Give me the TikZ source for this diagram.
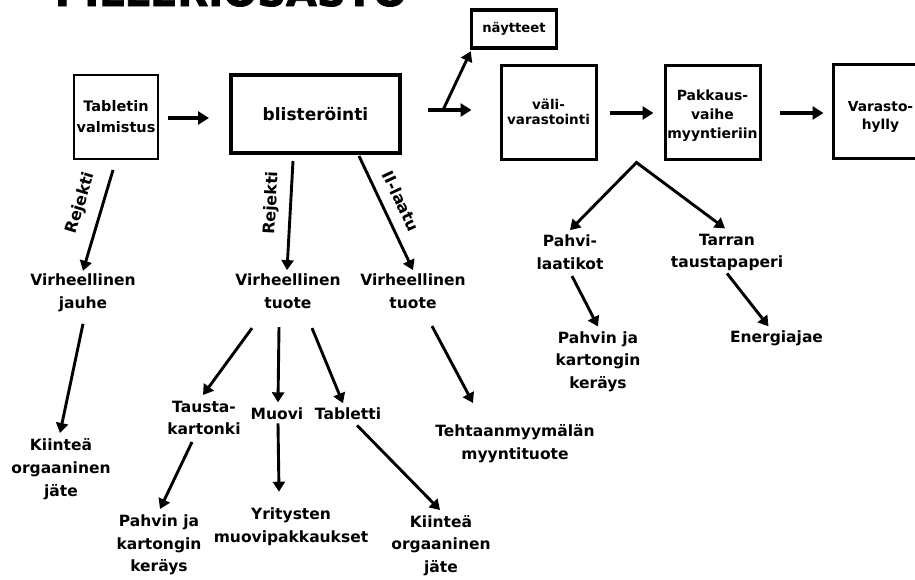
\documentclass[tikz,border=0pt]{standalone}
\usepackage{fontspec}
\setmainfont{DejaVu Sans}
\newfontfamily\titlefont{DejaVu Sans}[BoldFeatures={FakeBold=2}]
\usetikzlibrary{arrows.meta,calc}
\begin{document}
\begin{tikzpicture}[x=1pt,y=-1pt,
  lt/.style={font=\bfseries\fontsize{15.5}{22.7}\selectfont,align=center,inner sep=0pt},
  lab/.style={font=\bfseries\fontsize{16}{18}\selectfont,inner sep=0pt},
  bx/.style={draw,line width=3pt,align=center,inner sep=0pt,minimum width=95pt,minimum height=94pt},
  arr/.style={line width=2.9pt,-{Triangle[width=12pt,length=10pt]}},
  harr/.style={line width=3.8pt,-{Triangle[width=13pt,length=11pt]}},
  darr/.style={line width=2.9pt,{Triangle[width=12pt,length=10pt]}-{Triangle[width=12pt,length=10pt]}},
]
\fill[white] (0,0) rectangle (915,579);
\useasboundingbox (0,0) rectangle (915,579);
\clip (0,0) rectangle (915,579);

% title (cut by the top edge)
\node[font=\titlefont\bfseries\fontsize{40}{44}\selectfont,anchor=base,inner sep=0pt] (title) at (231,6) {PILLERIOSASTO};

% boxes
\node[bx,line width=2pt,minimum width=84pt,minimum height=84pt,font=\bfseries\fontsize{14.5}{21}\selectfont] (tab) at (116,117) {Tabletin\\valmistus};
\node[bx,line width=4pt,minimum width=169pt,minimum height=78pt,font=\bfseries\fontsize{17}{20}\selectfont] (bli) at (315.5,114) {blisteröinti};
\node[bx,line width=3.5pt,minimum width=85pt,minimum height=38pt,font=\bfseries\fontsize{13.2}{16}\selectfont] (nay) at (514,29) {näytteet};
\node[bx,font=\bfseries\fontsize{13.5}{15.5}\selectfont] (vali) at (548.5,112) {väli-\\varastointi};
\node[bx,font=\bfseries\fontsize{14}{19}\selectfont] (pak) at (712.5,112) {\rule{0pt}{17.6pt}Pakkaus-\\vaihe\\myyntieriin};
\node[bx,font=\bfseries\fontsize{13.8}{18}\selectfont] (var) at (880.5,111.5) {\rule{0pt}{21.5pt}Varasto-\\hylly};

% text nodes
\node[lt] (vj) at (83,292.8) {Virheellinen\\jauhe};
\node[lt] (kl) at (61,469) {Kiinteä\\orgaaninen\\jäte};
\node[lt] (vt1) at (288,291.1) {Virheellinen\\tuote};
\node[lt] (vt2) at (413,291.1) {Virheellinen\\tuote};
\node[lt] (tk) at (204,418) {Tausta-\\kartonki};
\node[lt,anchor=base] (mu) at (277,419.3) {Muovi};
\node[lt,anchor=base] (tb) at (348,419.3) {Tabletti};
\node[lt] (pk1) at (159,545) {Pahvin ja\\kartongin\\keräys};
\node[lt] (yr) at (291,526.7) {Yritysten\\muovipakkaukset};
\node[lt] (kr) at (441,545.6) {Kiinteä\\orgaaninen\\jäte};
\node[lt] (te) at (515,444) {Tehtaanmyymälän\\myyntituote};
\node[lt] (pl) at (570,252.1) {Pahvi-\\laatikot};
\node[lt] (tt) at (727,252.4) {Tarran\\taustapaperi};
\node[lt] (pk2) at (598,361.5) {Pahvin ja\\kartongin\\keräys};
\node[lt,anchor=base] (en) at (776.5,342.3) {Energiajae};

% main flow
\draw[harr] ($(tab.east)+(9,1)$) -- ($(bli.west)+(-20,4)$);
\draw[harr] ($(bli.east)+(26,-4)$) -- ($(vali.west)+(-28,-2)$);
\coordinate (sp) at ($(bli.east)+(41,-4)$);
\draw[arr] (sp) -- ($(nay.south west)+(1,1.5)$);
\draw[harr] ($(vali.east)+(12,1)$) -- ($(pak.west)+(-10,1)$);
\draw[harr] ($(pak.east)+(18,1)$) -- ($(var.west)+(-8,1.5)$);

% left branch
\draw[arr] ($(tab.south)+(-3,10)$) -- ($(vj)+(0,-22)$);
\node[lab,rotate=73] (l1) at (81,203) {Rejekti};
\draw[arr] ($(vj)+(0,31)$) -- ($(kl)+(-1,-36)$);

% blister branches
\draw[arr] ($(bli.south)+(-22.5,6)$) -- ($(vt1)+(-1,-21)$);
\node[lab,rotate=87] (l2) at (272,203) {Rejekti};
\draw[arr] ($(bli.south)+(43.5,1)$) -- ($(vt2)+(0,-21)$);
\node[lab,rotate=-65] (l3) at (401,201) {II-laatu};

\draw[arr] ($(vt1)+(-36,37)$) -- ($(tk)+(-1,-23)$);
\draw[arr] ($(vt1)+(-9,36)$) -- ($(mu.base)+(1,-17)$);
\draw[arr] ($(vt1)+(24,37)$) -- ($(tb.base)+(-5,-16)$);
\draw[arr] ($(tk)+(-12,24)$) -- ($(pk1)+(1,-36)$);
\draw[arr] ($(mu.base)+(1,4)$) -- ($(yr)+(-12,-35)$);
\draw[arr] ($(tb.base)+(9,6)$) -- ($(kr)+(-1,-35.6)$);
\draw[arr] ($(vt2)+(19,35)$) -- ($(te)+(-42,-41)$);

% packaging branches
\coordinate (apex) at ($(pak.south west)+(-27,2)$);
\draw[darr] ($(pl)+(0,-22)$) -- (apex) -- ($(tt)+(-2,-24)$);
\draw[arr] ($(pl)+(2,24)$) -- ($(pk2)+(0,-35)$);
\draw[arr] ($(tt)+(0,21)$) -- ($(en.base)+(-8,-16)$);
\end{tikzpicture}
\end{document}
